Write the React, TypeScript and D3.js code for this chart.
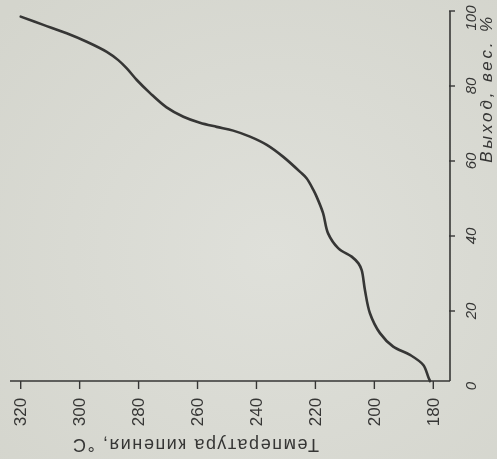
import React from "react";
import * as d3 from "d3";

// Distillation curve: yield (wt.%) vs boiling temperature (°C); page rotated 90° CCW
const temperatureTicks = [320, 300, 280, 260, 240, 220, 200, 180];
const yieldTicks = [0, 20, 40, 60, 80, 100];
const curveTemp = [
  320, 312.3, 304.4, 297.6, 290.8, 286.9, 284.0, 280.6, 276.1, 270.5, 264.8, 259.2,
  253.5, 247.9, 242.2, 236.5, 230.9, 225.2, 223.0, 220.7, 219.6, 217.4, 215.7, 212.2,
  207.7, 205.4, 204.3, 203.2, 201.5, 198.1, 193.6, 187.9, 183.4, 181.7, 181.1,
];
const curveYield = [
  98.5, 96.3, 94.05, 91.8, 89.1, 86.9, 84.7, 81.6, 78.1, 74.3, 71.8, 70.2,
  69.1, 68.1, 66.5, 64.3, 61.1, 57.1, 55.4, 52.3, 50.5, 46.1, 40.7, 36.7,
  34.5, 32.7, 30.9, 25.6, 19.4, 14.1, 10.5, 8.3, 5.6, 2.4, 1.3,
];
const tempTitle = "Температура кипения, °С";
const yieldTitle = "Выход, вес. %";

const W = 497;
const H = 459;
const AXIS_Y = 381;
const AXIS_X = 450;
const AXIS_LEFT = 10;
const INK = "#363635";
const FONT = "'Liberation Sans', Arial, sans-serif";

export default function App() {
  const x = d3.scaleLinear().domain([320, 180]).range([20.7, 433.3]);
  const y = d3.scaleLinear().domain([0, 100]).range([386, 11]);
  const pts: [number, number][] = curveTemp.map((t, i) => [x(t), y(curveYield[i])]);
  const path = d3.line().curve(d3.curveCatmullRom.alpha(0.5))(pts) || "";

  return (
    <svg
      width={W}
      height={H}
      viewBox={`0 0 ${W} ${H}`}
      style={{ position: "fixed", left: 0, top: 0, display: "block" }}
    >
      <defs>
        <radialGradient id="paper" cx="55%" cy="55%" r="75%">
          <stop offset="0%" stopColor="#dfe0da" />
          <stop offset="100%" stopColor="#d4d5cd" />
        </radialGradient>
      </defs>
      <rect x={0} y={0} width={W} height={H} fill="url(#paper)" />

      {/* bottom (temperature) axis */}
      <line x1={AXIS_LEFT} x2={AXIS_X} y1={AXIS_Y} y2={AXIS_Y} stroke={INK} strokeWidth={1.6} />
      {temperatureTicks.map((t) => (
        <g key={t} transform={`translate(${x(t)},${AXIS_Y})`}>
          <line y1={0} y2={8} stroke={INK} strokeWidth={1.4} />
          <text
            transform="translate(0,31) rotate(-90)"
            textAnchor="middle"
            dominantBaseline="central"
            fontFamily={FONT}
            fontSize={17}
            fill={INK}
          >
            {t}
          </text>
        </g>
      ))}
      <text
        transform={`translate(196,445) rotate(180)`}
        textAnchor="middle"
        dominantBaseline="central"
        fontFamily={FONT}
        fontSize={18}
        fill={INK}
        textLength={246}
        lengthAdjust="spacing"
      >
        {tempTitle}
      </text>

      {/* right (yield) axis */}
      <line x1={AXIS_X} x2={AXIS_X} y1={y(100)} y2={AXIS_Y} stroke={INK} strokeWidth={1.6} />
      {yieldTicks.map((v) => (
        <g key={v} transform={`translate(${AXIS_X},${y(v)})`}>
          {v > 0 && <line x1={-1} x2={5} stroke={INK} strokeWidth={1.4} />}
          <text
            transform={`translate(20,${v === 100 ? 7 : 0}) rotate(-90)`}
            textAnchor="middle"
            dominantBaseline="central"
            fontFamily={FONT}
            fontStyle="italic"
            fontSize={15}
            fill={INK}
          >
            {v}
          </text>
        </g>
      ))}
      <text
        transform={`translate(486,${y(79)}) rotate(-90)`}
        textAnchor="middle"
        dominantBaseline="central"
        fontFamily={FONT}
        fontStyle="italic"
        fontSize={17}
        fill={INK}
        textLength={146}
        lengthAdjust="spacing"
      >
        {yieldTitle}
      </text>

      {/* curve */}
      <path d={path} fill="none" stroke={INK} strokeWidth={2.6} strokeLinecap="round" />
    </svg>
  );
}
